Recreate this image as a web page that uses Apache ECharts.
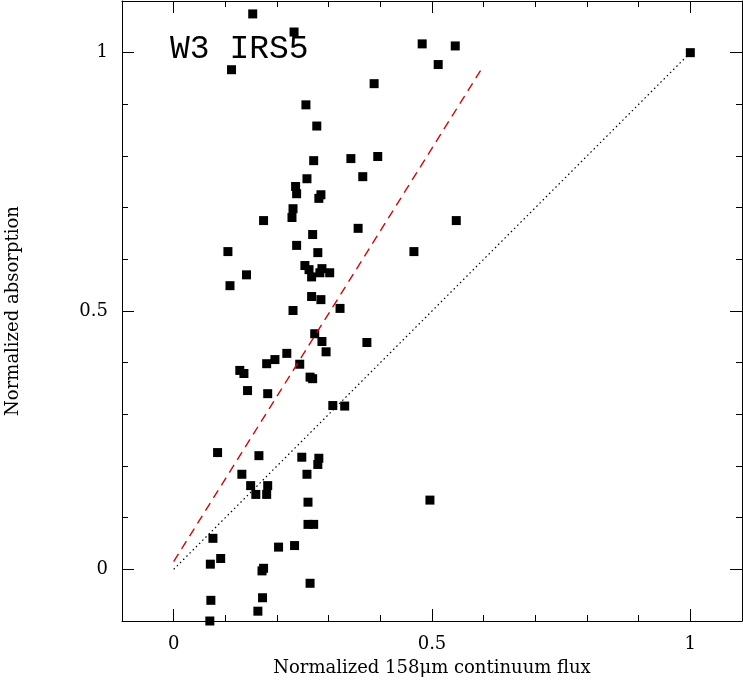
<!DOCTYPE html>
<html><head><meta charset="utf-8">
<script src="https://cdn.jsdelivr.net/npm/echarts@6/dist/echarts.min.js"></script>
<style>html,body{margin:0;padding:0;background:#fff}#c{width:743px;height:681px}</style>
</head><body><div id="c"></div>
<script>
const pointsX = [0.153,0.233,0.481,0.545,0.512,1.0,0.112,0.388,0.256,0.277,0.395,0.343,0.271,0.366,0.258,0.236,0.285,0.281,0.238,0.231,0.174,0.229,0.547,0.357,0.269,0.238,0.105,0.279,0.465,0.254,0.262,0.287,0.267,0.283,0.302,0.141,0.109,0.267,0.285,0.322,0.231,0.273,0.287,0.374,0.295,0.219,0.196,0.180,0.128,0.244,0.136,0.264,0.143,0.269,0.182,0.308,0.331,0.085,0.165,0.248,0.281,0.279,0.132,0.258,0.149,0.182,0.159,0.180,0.496,0.260,0.260,0.271,0.076,0.091,0.203,0.234,0.174,0.171,0.264,0.072,0.172,0.163,0.070,0.071];
const pointsY = [1.075,1.040,1.017,1.013,0.977,1.0,0.967,0.940,0.899,0.858,0.799,0.795,0.791,0.760,0.756,0.741,0.725,0.718,0.727,0.698,0.675,0.681,0.675,0.660,0.648,0.627,0.615,0.613,0.615,0.588,0.580,0.582,0.566,0.574,0.574,0.570,0.549,0.528,0.522,0.505,0.501,0.456,0.441,0.439,0.421,0.418,0.406,0.398,0.385,0.397,0.379,0.372,0.346,0.369,0.340,0.317,0.316,0.226,0.220,0.217,0.215,0.203,0.184,0.184,0.162,0.162,0.145,0.145,0.134,0.130,0.087,0.087,0.060,0.021,0.043,0.046,0.002,-0.003,-0.027,-0.060,-0.055,-0.081,-0.100,0.010];
const redLineX = [0, 0.6], redLineY = [0.015, 0.975];
const diagX = [0, 1], diagY = [0, 1];
const tickValues = [0, 0.5, 1];
const tickLabels = ['0', '0.5', '1'];
const xTitle = 'Normalized 158\u03bcm continuum flux';
const yTitle = 'Normalized absorption';
const label = 'W3 IRS5';

const font = 'DejaVu Serif';
const pts = pointsX.map((x,i)=>[x,pointsY[i]]);
function ax(pos, major, show, name){
  const o = {type:'value', position:pos, min:-0.1, max:1.1, splitLine:{show:false},
    axisLine:{show:show, onZero:false, lineStyle:{color:'#000',width:1}},
    axisTick:{inside:true, length: major?12:6, lineStyle:{color:'#000'}},
    axisLabel:{show:false}};
  if(major){
    o.axisTick.customValues = tickValues;
    if(pos==='bottom'||pos==='left'){
      o.axisLabel = {show:true, customValues:tickValues, color:'#000', fontFamily:font, fontSize:18,
        margin:14, formatter:v=>tickLabels[tickValues.indexOf(Math.round(v*10)/10)] ?? ''};
    }
  } else { o.interval = 0.1; }
  if(name){ o.name=name; o.nameLocation='middle'; o.nameTextStyle={fontFamily:font,fontSize:18,color:'#000'}; o.nameGap = pos==='bottom'?38:100; }
  return o;
}
const chart = echarts.init(document.getElementById('c'));
chart.setOption({
  animation:false,
  grid:{left:122,right:1,top:1,bottom:60,containLabel:false,outerBoundsMode:'none'},
  xAxis:[ax('bottom',true,true,xTitle), ax('bottom',false,false), ax('top',true,true), ax('top',false,false)],
  yAxis:[ax('left',true,true,yTitle), ax('left',false,false), ax('right',true,true), ax('right',false,false)],
  graphic:[{type:'text', left:170, top:33, style:{text:label, font:'33px "Liberation Mono"', fill:'#000'}}],
  series:[
    {type:'line', data:diagX.map((x,i)=>[x,diagY[i]]), symbol:'none', lineStyle:{color:'#000',width:1.2,type:[1.5,3]}},
    {type:'line', data:redLineX.map((x,i)=>[x,redLineY[i]]), symbol:'none', lineStyle:{color:'#e00000',width:1.4,type:[9,6]}},
    {type:'scatter', data:pts, symbol:'rect', symbolSize:9, itemStyle:{color:'#000',opacity:1}, clip:true}
  ]
});
</script></body></html>
